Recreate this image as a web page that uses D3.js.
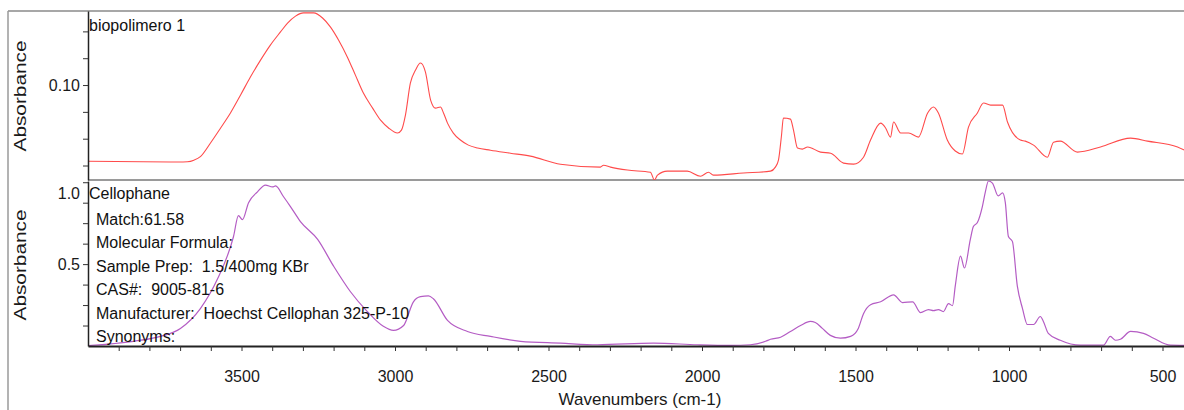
<!DOCTYPE html>
<html>
<head>
<meta charset="utf-8">
<script src="https://cdn.jsdelivr.net/npm/d3@7"></script>
<style>
  body { margin: 0; background: #fff; }
  svg { display: block; font-family: "Liberation Sans", Arial, sans-serif; }
</style>
</head>
<body>
<div id="chart"></div>
<script>
// biopolimero 1 (sample spectrum)
const topWavenumbers = [4000, 3705, 3676, 3655, 3634, 3601, 3568, 3536, 3503, 3471, 3438, 3406, 3373, 3350, 3324, 3298, 3265, 3236, 3210, 3184, 3155, 3129, 3103, 3073, 3047, 3021, 2992, 2979, 2966, 2950, 2933, 2917, 2901, 2884, 2868, 2852, 2842, 2829, 2810, 2787, 2761, 2731, 2689, 2624, 2559, 2461, 2331, 2321, 2298, 2243, 2168, 2155, 2145, 2113, 2048, 2005, 1979, 1963, 1865, 1777, 1761, 1751, 1741, 1735, 1712, 1702, 1689, 1673, 1656, 1614, 1581, 1539, 1506, 1474, 1451, 1418, 1402, 1386, 1376, 1353, 1327, 1295, 1265, 1246, 1230, 1201, 1175, 1152, 1132, 1103, 1083, 1060, 1021, 1005, 963, 947, 920, 875, 855, 833, 777, 702, 604, 549, 451, 428];
const topAbsorbance = [0.0716, 0.0713, 0.0714, 0.0720, 0.0733, 0.0784, 0.0840, 0.0896, 0.0963, 0.1030, 0.1093, 0.1149, 0.1198, 0.1231, 0.1257, 0.1269, 0.1269, 0.1250, 0.1216, 0.1168, 0.1104, 0.1037, 0.0970, 0.0914, 0.0869, 0.0840, 0.0821, 0.0832, 0.0888, 0.1007, 0.1056, 0.1082, 0.1049, 0.0944, 0.0914, 0.0918, 0.0896, 0.0858, 0.0821, 0.0795, 0.0776, 0.0765, 0.0757, 0.0746, 0.0735, 0.0705, 0.0694, 0.0701, 0.0694, 0.0683, 0.0675, 0.0646, 0.0664, 0.0679, 0.0679, 0.0660, 0.0675, 0.0664, 0.0672, 0.0679, 0.0694, 0.0720, 0.0813, 0.0877, 0.0873, 0.0832, 0.0765, 0.0761, 0.0769, 0.0750, 0.0746, 0.0709, 0.0705, 0.0731, 0.0795, 0.0858, 0.0840, 0.0806, 0.0862, 0.0821, 0.0821, 0.0806, 0.0896, 0.0918, 0.0896, 0.0795, 0.0754, 0.0743, 0.0843, 0.0896, 0.0933, 0.0925, 0.0925, 0.0862, 0.0795, 0.0791, 0.0776, 0.0731, 0.0787, 0.0791, 0.0750, 0.0769, 0.0802, 0.0791, 0.0769, 0.0757];

// Cellophane (library match)
const botWavenumbers = [4000, 3852, 3764, 3699, 3634, 3578, 3526, 3510, 3497, 3477, 3448, 3422, 3399, 3389, 3363, 3340, 3308, 3252, 3200, 3145, 3090, 3038, 3005, 2972, 2940, 2917, 2891, 2875, 2829, 2764, 2689, 2591, 2461, 2341, 2158, 2015, 1907, 1842, 1793, 1777, 1744, 1712, 1679, 1647, 1631, 1608, 1582, 1549, 1516, 1491, 1474, 1451, 1418, 1376, 1347, 1314, 1288, 1262, 1246, 1230, 1214, 1197, 1184, 1175, 1158, 1145, 1126, 1116, 1103, 1087, 1077, 1067, 1054, 1035, 1021, 1012, 1002, 989, 973, 956, 940, 920, 898, 888, 872, 833, 767, 692, 670, 653, 637, 604, 562, 529, 474, 428];
const botAbsorbance = [0.102, 0.123, 0.147, 0.186, 0.283, 0.428, 0.635, 0.737, 0.717, 0.800, 0.853, 0.886, 0.877, 0.882, 0.829, 0.780, 0.708, 0.621, 0.490, 0.365, 0.268, 0.196, 0.176, 0.200, 0.316, 0.341, 0.345, 0.331, 0.225, 0.171, 0.147, 0.123, 0.114, 0.106, 0.114, 0.106, 0.103, 0.106, 0.123, 0.133, 0.143, 0.171, 0.200, 0.220, 0.215, 0.186, 0.152, 0.138, 0.147, 0.186, 0.258, 0.302, 0.316, 0.350, 0.312, 0.316, 0.263, 0.278, 0.273, 0.278, 0.268, 0.307, 0.297, 0.394, 0.539, 0.481, 0.621, 0.684, 0.703, 0.780, 0.853, 0.906, 0.896, 0.833, 0.848, 0.800, 0.635, 0.611, 0.394, 0.283, 0.205, 0.205, 0.244, 0.220, 0.162, 0.128, 0.104, 0.104, 0.147, 0.128, 0.133, 0.171, 0.162, 0.138, 0.104, 0.103];

const xTicks = d3.range(500, 4000, 100);
const xLabels = [3500, 3000, 2500, 2000, 1500, 1000, 500];
const topTicks = [0.07, 0.08, 0.09, 0.10, 0.11, 0.12];
const topLabels = ["0.10"];
const botTicks = [0.2, 0.3, 0.4, 0.5, 0.6, 0.7, 0.8, 0.9];
const botLabels = ["0.5"];

const matchInfo = [
    "Match:61.58",
    "Molecular Formula:",
    "Sample Prep:  1.5/400mg KBr",
    "CAS#:  9005-81-6",
    "Manufacturer:  Hoechst Cellophan 325-P-10",
    "Synonyms:"
];

const width = 1184;
const height = 410;
const left = 88, right = 1184;
const topPanel = [11, 180];
const botPanel = [181, 346];

const svg = d3.select("#chart")
    .append("svg")
    .attr("width", width)
    .attr("height", height);

const x = d3.scaleLinear().domain([4000, 430]).range([left, right]);
const yTop = d3.scaleLinear().domain([0.0646, 0.1276]).range([topPanel[1], topPanel[0]]);
const yBot = d3.scaleLinear().domain([0.1, 0.906]).range([botPanel[1], botPanel[0]]);

// frame
svg.append("line").attr("x1", 8).attr("x2", width).attr("y1", 11).attr("y2", 11)
    .attr("stroke", "#8a8a8a").attr("stroke-width", 1.5);
svg.append("line").attr("x1", 8).attr("x2", 8).attr("y1", 11).attr("y2", height)
    .attr("stroke", "#9a9a9a").attr("stroke-width", 1.5);
svg.append("line").attr("x1", left).attr("x2", width).attr("y1", 180).attr("y2", 180)
    .attr("stroke", "#9a9a9a").attr("stroke-width", 2);

// clip paths
const defs = svg.append("defs");
defs.append("clipPath").attr("id", "clipTop").append("rect")
    .attr("x", left).attr("y", topPanel[0]).attr("width", right - left).attr("height", topPanel[1] - topPanel[0]);
defs.append("clipPath").attr("id", "clipBot").append("rect")
    .attr("x", left).attr("y", botPanel[0] - 1).attr("width", right - left).attr("height", botPanel[1] - botPanel[0] + 1);

const topData = topWavenumbers.map((w, i) => [w, topAbsorbance[i]]);
const botData = botWavenumbers.map((w, i) => [w, botAbsorbance[i]]);

const lineTop = d3.line().x(d => x(d[0])).y(d => yTop(d[1])).curve(d3.curveMonotoneX);
const lineBot = d3.line().x(d => x(d[0])).y(d => yBot(d[1])).curve(d3.curveMonotoneX);

svg.append("path")
    .datum(topData)
    .attr("clip-path", "url(#clipTop)")
    .attr("fill", "none")
    .attr("stroke", "#ff4b4b")
    .attr("stroke-width", 1.1)
    .attr("d", lineTop);

svg.append("path")
    .datum(botData)
    .attr("clip-path", "url(#clipBot)")
    .attr("fill", "none")
    .attr("stroke", "#b45cc4")
    .attr("stroke-width", 1.2)
    .attr("d", lineBot);

// axes
const topAxis = svg.append("g")
    .attr("transform", `translate(${left},0)`)
    .call(d3.axisLeft(yTop).tickValues(topTicks).tickSizeInner(5).tickSizeOuter(0).tickPadding(3)
        .tickFormat(d => topLabels.includes(d.toFixed(2)) ? d.toFixed(2) : ""));

const botAxis = svg.append("g")
    .attr("transform", `translate(${left},0)`)
    .call(d3.axisLeft(yBot).tickValues(botTicks).tickSizeInner(5).tickSizeOuter(0).tickPadding(3)
        .tickFormat(d => botLabels.includes(d.toFixed(1)) ? d.toFixed(1) : ""));

const xAxis = svg.append("g")
    .attr("transform", `translate(0,${botPanel[1]})`)
    .call(d3.axisBottom(x).tickValues(xTicks).tickSizeInner(5).tickSizeOuter(0).tickPadding(20)
        .tickFormat(d => xLabels.includes(d) ? d : ""));

[topAxis, botAxis, xAxis].forEach(g => {
    g.selectAll("text").attr("font-size", 16).attr("fill", "#1a1a1a")
        .attr("font-family", "Liberation Sans, Arial, sans-serif");
    g.selectAll("line").attr("stroke", "#333");
});
topAxis.select(".domain").attr("stroke", "#222").attr("stroke-width", 1.5);
botAxis.select(".domain").attr("stroke", "#222").attr("stroke-width", 1.5);
xAxis.select(".domain").attr("stroke", "#222").attr("stroke-width", 2);

// top label of the lower panel
svg.append("text")
    .attr("x", 80).attr("y", 199)
    .attr("text-anchor", "end")
    .attr("font-size", 16)
    .attr("fill", "#1a1a1a")
    .text("1.0");

// axis titles
function rotatedTitle(cx, cy, str) {
    svg.append("text")
        .attr("transform", `translate(${cx},${cy}) rotate(-90) scale(1.3,1.05)`)
        .attr("text-anchor", "middle")
        .attr("dy", "0.35em")
        .attr("font-size", 16)
        .attr("fill", "#1a1a1a")
        .text(str);
}
rotatedTitle(20, 96, "Absorbance");
rotatedTitle(20, 265, "Absorbance");

svg.append("text")
    .attr("x", 640).attr("y", 405)
    .attr("text-anchor", "middle")
    .attr("font-size", 17)
    .attr("fill", "#1a1a1a")
    .text("Wavenumbers (cm-1)");

// spectrum titles
svg.append("text")
    .attr("x", 89).attr("y", 31)
    .attr("font-size", 16)
    .attr("fill", "#111")
    .text("biopolimero 1");

svg.append("text")
    .attr("x", 89).attr("y", 199)
    .attr("font-size", 16)
    .attr("fill", "#111")
    .text("Cellophane");

svg.append("g")
    .selectAll("text")
    .data(matchInfo)
    .enter()
    .append("text")
    .attr("x", 96)
    .attr("y", (d, i) => 225 + i * 23.4)
    .attr("font-size", 16)
    .attr("fill", "#111")
    .style("white-space", "pre")
    .text(d => d);
</script>
</body>
</html>
